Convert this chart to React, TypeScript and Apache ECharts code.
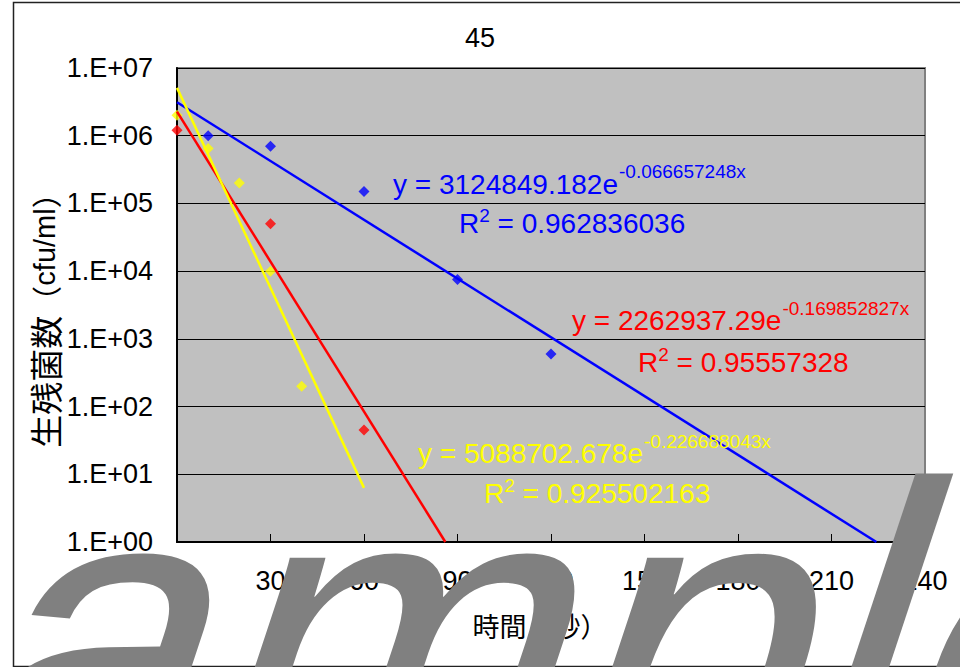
import React, { useEffect, useRef } from 'react';
import * as echarts from 'echarts';

const chartTitle = '45';
const xAxisName = '時間（秒）';
const yAxisNameParts = ['生残菌数', '（', 'cfu/ml', '）'];
const yTickLabels = ['1.E+00', '1.E+01', '1.E+02', '1.E+03', '1.E+04', '1.E+05', '1.E+06', '1.E+07'];

const blueTimes = [10, 30, 60, 90, 120];
const blueCounts = [1.0e6, 7.0e5, 1.5e5, 7.5e3, 6.0e2];
const redTimes = [0, 30, 60];
const redCounts = [1.2e6, 5.0e4, 45];
const yellowTimes = [0, 10, 20, 30, 40];
const yellowCounts = [2.0e6, 6.5e5, 2.0e5, 1.0e4, 2.0e2];

// trendline end points (exponential fits as printed on the chart)
const blueTrendTimes = [0, 224.4];
const blueTrendCounts = [3124849.182, 1];
const redTrendTimes = [0, 86.1];
const redTrendCounts = [2262937.29, 1];
const yellowTrendTimes = [0, 60];
const yellowTrendCounts = [5088702.678, 6.3];

const blueEquation = ['y = 3124849.182e', '-0.066657248x', ' = 0.962836036'];
const redEquation = ['y = 2262937.29e', '-0.169852827x', ' = 0.95557328'];
const yellowEquation = ['y = 5088702.678e', '-0.226688043x', ' = 0.925502163'];

const watermarkText = 'Sample';

const LATIN = '"Liberation Sans", Arial, sans-serif';
const MIXED = '"Liberation Sans", "Noto Sans CJK JP", sans-serif';
const CJK = '"Noto Sans CJK JP", sans-serif';

const pairs = (xs: number[], ys: number[]) => xs.map((x, i) => [x, ys[i]]);

let measureCtx: CanvasRenderingContext2D | null = null;
function measure(text: string, size: number) {
  if (!measureCtx) measureCtx = document.createElement('canvas').getContext('2d');
  measureCtx!.font = `${size}px "Liberation Sans", Arial, sans-serif`;
  return measureCtx!.measureText(text).width;
}

const MAIN = 28;
const SUP = 19;
const CENTRAL = 0.3465;

function equationGraphics(eq: string[], color: string, pos: { ex: number; eb: number; sb: number; rx: number; rb: number }) {
  const mainW = measure(eq[0], MAIN);
  const rW = measure('R', MAIN);
  const twoW = measure('2', SUP);
  const t = (text: string, x: number, baseline: number, size: number) => ({
    type: 'text',
    z: 50,
    silent: true,
    x,
    y: baseline - CENTRAL * size,
    style: { text, fill: color, fontSize: size, fontFamily: LATIN, verticalAlign: 'middle', align: 'left' },
  });
  return [
    t(eq[0], pos.ex, pos.eb, MAIN),
    t(eq[1], pos.ex + mainW + 1, pos.sb, SUP),
    t('R', pos.rx, pos.rb, MAIN),
    t('2', pos.rx + rW, pos.rb - 11, SUP),
    t(eq[2], pos.rx + rW + twoW, pos.rb, MAIN),
  ];
}

export default function App() {
  const ref = useRef<HTMLDivElement>(null);
  useEffect(() => {
    if (!ref.current) return;
    const chart = echarts.init(ref.current, undefined, { renderer: 'svg' });
    const wmSize = 430;
    const yName = `{c|${yAxisNameParts[0]}}{p|${yAxisNameParts[1]}}{l|${yAxisNameParts[2]}}{p|${yAxisNameParts[3]}}`;
    const option: any = {
      animation: false,
      backgroundColor: '#ffffff',
      title: {
        text: chartTitle,
        left: 'center',
        top: 19,
        textStyle: { fontSize: 27, fontWeight: 'normal', color: '#000', fontFamily: LATIN },
      },
      grid: {
        left: 177,
        top: 68,
        width: 748,
        height: 474,
        show: true,
        backgroundColor: '#C0C0C0',
        borderColor: '#808080',
        borderWidth: 2,
      },
      xAxis: {
        type: 'value',
        min: 0,
        max: 240,
        interval: 30,
        name: xAxisName,
        nameLocation: 'middle',
        nameGap: 72,
        nameTextStyle: { fontSize: 27, color: '#000', fontFamily: MIXED, padding: [0, 22, 0, 0] },
        axisLine: { show: true, lineStyle: { color: '#000', width: 2 } },
        axisTick: { show: true, inside: true, length: 8, lineStyle: { color: '#000', width: 1 } },
        axisLabel: { fontSize: 27, color: '#000', fontFamily: LATIN, margin: 25 },
        splitLine: { show: false },
      },
      yAxis: {
        type: 'log',
        logBase: 10,
        min: 1,
        max: 1e7,
        splitNumber: 7,
        axisLine: { show: true, lineStyle: { color: '#000', width: 2 } },
        axisTick: { show: false },
        axisLabel: {
          fontSize: 27,
          color: '#000',
          fontFamily: LATIN,
          margin: 24,
          formatter: (v: number) => yTickLabels[Math.round(Math.log10(v))] ?? '',
        },
        splitLine: { show: true, lineStyle: { color: '#000', width: 1 } },
      },
      series: [
        { type: 'scatter', name: 'blue', data: pairs(blueTimes, blueCounts), symbol: 'diamond', symbolSize: 11, itemStyle: { color: '#0000FF' }, clip: false, z: 2 },
        { type: 'scatter', name: 'red', data: pairs(redTimes, redCounts), symbol: 'diamond', symbolSize: 11, itemStyle: { color: '#FF0000' }, clip: false, z: 2 },
        { type: 'scatter', name: 'yellow', data: pairs(yellowTimes, yellowCounts), symbol: 'diamond', symbolSize: 11, itemStyle: { color: '#FFFF00' }, clip: false, z: 2 },
        { type: 'line', name: 'blue fit', data: pairs(blueTrendTimes, blueTrendCounts), showSymbol: false, lineStyle: { color: '#0000FF', width: 2.5 }, z: 3 },
        { type: 'line', name: 'red fit', data: pairs(redTrendTimes, redTrendCounts), showSymbol: false, lineStyle: { color: '#FF0000', width: 2.5 }, z: 3 },
        { type: 'line', name: 'yellow fit', data: pairs(yellowTrendTimes, yellowTrendCounts), showSymbol: false, lineStyle: { color: '#FFFF00', width: 2.5 }, z: 3 },
      ],
      graphic: [
        {
          type: 'rect',
          silent: true,
          z: -1,
          shape: { x: 13.5, y: 2.5, width: 1000, height: 664 },
          style: { fill: 'none', stroke: '#222', lineWidth: 1.5 },
        },
        {
          type: 'text',
          silent: true,
          z: 10,
          x: 45,
          y: 313,
          rotation: Math.PI / 2,
          style: {
            text: yName,
            fill: '#000',
            align: 'center',
            verticalAlign: 'middle',
            rich: {
              c: { fontSize: 33, fontFamily: CJK, fill: '#000' },
              p: { fontSize: 30, fontFamily: CJK, fill: '#000' },
              l: { fontSize: 29, fontFamily: LATIN, fill: '#000' },
            },
          },
        },
        ...equationGraphics(blueEquation, '#0000FF', { ex: 393, eb: 194, sb: 178, rx: 459, rb: 233 }),
        ...equationGraphics(redEquation, '#FF0000', { ex: 572, eb: 330, sb: 315, rx: 638, rb: 372 }),
        ...equationGraphics(yellowEquation, '#FFFF00', { ex: 418, eb: 463, sb: 448, rx: 484, rb: 503 }),
        {
          type: 'group',
          x: -340,
          y: 785,
          skewX: -0.32,
          z: 100,
          children: [
            {
              type: 'text',
              z: 100,
              silent: true,
              x: 0,
              y: -CENTRAL * wmSize,
              style: { text: watermarkText, fontSize: wmSize, fontFamily: LATIN, fill: '#808080', verticalAlign: 'middle', align: 'left' },
            },
          ],
        },
      ],
    };
    chart.setOption(option);
    return () => chart.dispose();
  }, []);
  return <div ref={ref} style={{ position: 'absolute', left: 0, top: 0, width: 960, height: 667 }} />;
}
